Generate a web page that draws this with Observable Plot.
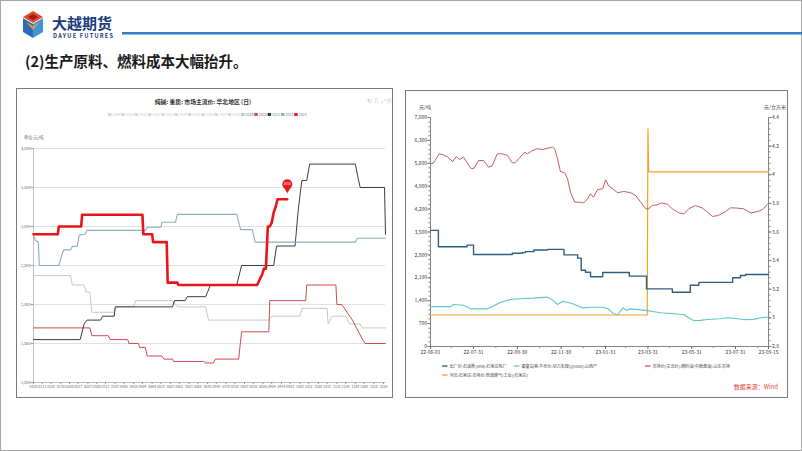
<!DOCTYPE html>
<html><head><meta charset="utf-8">
<script src="https://cdn.jsdelivr.net/npm/d3@7"></script>
<script src="https://cdn.jsdelivr.net/npm/@observablehq/plot@0.6"></script>
<style>
html,body{margin:0;padding:0;background:#fff;}
#slide{position:relative;width:802px;height:451px;overflow:hidden;background:#fff;font-family:"Noto Sans CJK SC","Noto Sans",sans-serif;}
.box{position:absolute;border:1px solid #7a7a7a;box-sizing:border-box;}
#leftChart,#rightChart,#ov{position:absolute;}
#ov{left:0;top:0;}
</style></head>
<body><div id="slide">
<div class="box" style="left:0;top:0;width:802px;height:451px;border-color:#a8a8a8"></div>
<div class="box" style="left:16px;top:88px;width:377px;height:310px"></div>
<div class="box" style="left:405px;top:90px;width:383px;height:308px"></div>
<div id="leftChart" style="left:16px;top:125px"></div>
<div id="rightChart" style="left:406px;top:95px"></div>
<svg id="ov" width="802" height="451"></svg>
</div>
<script>
const FONT = '"Noto Sans CJK SC","Noto Sans",sans-serif';

// ---------- Left chart: 纯碱 seasonal (x = day of year) ----------
const leftTitle = "纯碱: 重质: 市场主流价: 华北地区 (日)";
const leftUnit = "单位:元/吨";
const legendYears = ["2009","2010","2011","2012","2013","2014","2015","2016","2017","2018","2019","2020","2021","2022","2023"];
const seasonLabels = ["0102","0111","0120","0130","0208","0217","0227","0308","0317","0327","0405","0415","0424","0504","0513","0523","0601","0611","0620","0630","0709","0719","0728","0807","0816","0826","0904","0914","0923","1003","1012","1022","1031","1110","1119","1129","1208","1218","1228"];
const leftYTicks = [1000,1500,2000,2500,3000,3500,4000];

const ash2019 = [[2,2370],[40,2370],[42,2250],[54,2250],[56,2160],[60,2160],[62,1900],[85,1900],[87,1970],[105,1970],[107,2050],[145,2050],[150,1970],[179,1970],[182,1800],[244,1800],[247,1850],[276,1850],[278,1950],[304,1950],[305,1750],[309,1850],[323,1850],[327,1750],[338,1750],[340,1700],[364,1700]];
const ash2020 = [[2,1700],[60,1700],[62,1600],[79,1600],[81,1550],[99,1550],[100,1500],[110,1500],[111,1450],[117,1450],[119,1340],[134,1340],[136,1300],[145,1300],[146,1270],[177,1270],[179,1250],[187,1250],[189,1300],[213,1300],[216,1650],[244,1650],[245,2050],[282,2050],[283,2250],[313,2250],[314,2000],[319,2000],[330,1800],[340,1560],[343,1500],[364,1500]];
const ash2021 = [[2,1550],[50,1550],[54,1750],[57,1800],[71,1800],[73,1850],[85,1850],[86,1970],[145,1970],[147,2050],[158,2050],[160,2100],[179,2100],[181,2160],[184,2250],[211,2250],[216,2500],[249,2500],[252,2750],[271,2750],[274,3180],[277,3500],[278,3590],[283,3590],[286,3800],[333,3800],[336,3610],[338,3500],[363,3500],[364,2900]];
const ash2022 = [[2,2890],[4,2820],[7,2800],[8,2500],[28,2500],[31,2630],[33,2700],[40,2700],[42,2745],[47,2745],[49,2890],[55,2900],[57,2950],[117,2950],[119,2990],[133,2990],[134,3055],[148,3055],[150,3155],[211,3155],[215,2960],[227,2960],[230,2800],[333,2800],[335,2850],[364,2850]];
const ash2023 = [[2,2900],[27,2900],[28,3000],[51,3000],[52,3150],[114,3150],[115,2900],[124,2900],[125,2800],[139,2800],[140,2280],[150,2280],[151,2250],[232,2250],[235,2330],[237,2380],[239,2460],[241,2460],[243,3000],[245,3000],[247,3050],[249,3180],[251,3250],[253,3350],[263,3350]];

// ---------- Right chart: fuels ----------
const rightLegend = ["出厂价:石油焦(3#B):石家庄炼厂","秦皇岛港:平仓价:动力末煤(Q5500):山西产","市场价(主流价):燃料油(中硫渣油):山东市场","河北:石家庄:市场价:管道燃气(工业)(石家庄)"];
const rightColors = ["#2e5e84","#5fc6c9","#cc5a5f","#f5a028"];
const leftAxisTicks = [0,700,1400,2100,2800,3500,4200,4900,5600,6300,7000];
const rightAxisTicks = [2.8,3,3.2,3.4,3.6,3.8,4,4.2,4.4];
const dateTicks = ["2022-06-01","2022-07-31","2022-09-30","2022-11-30","2023-01-31","2023-03-31","2023-05-31","2023-07-31","2023-09-15"];
const dateMinorTicks = ["2022-06-30","2022-08-31","2022-10-31","2022-12-31","2023-02-28","2023-04-30","2023-06-30","2023-08-31"];

const petcoke = [["2022-06-01",3550],["2022-06-12",3050],["2022-07-22",3100],["2022-07-31",2810],["2022-09-23",2850],["2022-10-07",2870],["2022-10-11",2900],["2022-10-23",2950],["2022-11-11",2970],["2022-12-04",2800],["2022-12-23",2700],["2022-12-28",2330],["2023-01-03",2270],["2023-01-10",2130],["2023-01-27",2260],["2023-03-05",2150],["2023-03-29",1760],["2023-05-04",1660],["2023-05-29",1870],["2023-06-10",1960],["2023-07-27",2100],["2023-08-07",2170],["2023-08-14",2200],["2023-09-15",2200]];
const coal = [["2022-06-01",1220],["2022-06-29",1220],["2022-07-03",1285],["2022-07-17",1260],["2022-07-27",1150],["2022-08-19",1150],["2022-08-26",1220],["2022-09-07",1355],["2022-09-20",1435],["2022-10-04",1460],["2022-10-23",1480],["2022-11-11",1510],["2022-11-18",1420],["2022-11-25",1285],["2022-12-02",1375],["2022-12-09",1355],["2022-12-17",1300],["2022-12-30",1180],["2023-01-10",1200],["2023-01-27",1200],["2023-02-04",1150],["2023-02-11",1000],["2023-02-17",970],["2023-02-21",1100],["2023-02-25",1180],["2023-03-01",1100],["2023-03-07",1150],["2023-03-21",1120],["2023-04-04",1080],["2023-04-18",1030],["2023-05-06",1000],["2023-05-20",980],["2023-05-29",850],["2023-06-03",795],["2023-06-12",800],["2023-06-22",825],["2023-07-10",850],["2023-07-20",880],["2023-08-03",850],["2023-08-14",820],["2023-08-25",830],["2023-09-04",880],["2023-09-14",900]];
const fuelOil = [["2022-06-01",5585],["2022-06-05",5600],["2022-06-13",5890],["2022-06-19",5860],["2022-06-25",5790],["2022-07-02",5655],["2022-07-07",5810],["2022-07-11",5715],["2022-07-17",5790],["2022-07-27",5450],["2022-07-31",5430],["2022-08-07",5685],["2022-08-14",5685],["2022-08-21",5480],["2022-08-26",5530],["2022-09-02",5890],["2022-09-09",5890],["2022-09-16",5840],["2022-09-23",5615],["2022-09-27",5615],["2022-10-04",5790],["2022-10-10",5940],["2022-10-14",5890],["2022-10-21",5990],["2022-10-28",6045],["2022-11-04",6020],["2022-11-11",6060],["2022-11-18",6095],["2022-11-21",6045],["2022-11-25",5740],["2022-11-29",5350],["2022-12-05",5310],["2022-12-09",5125],["2022-12-13",4720],["2022-12-19",4410],["2022-12-27",4410],["2022-12-31",4390],["2023-01-06",4515],["2023-01-10",4670],["2023-01-14",4565],["2023-01-20",4800],["2023-01-27",4820],["2023-01-31",5095],["2023-02-04",4920],["2023-02-11",4800],["2023-02-17",4700],["2023-02-25",4740],["2023-03-07",4700],["2023-03-14",4615],["2023-03-21",4410],["2023-03-28",4210],["2023-04-01",4210],["2023-04-06",4310],["2023-04-13",4330],["2023-04-19",4390],["2023-04-27",4350],["2023-05-04",4210],["2023-05-13",4085],["2023-05-20",4055],["2023-05-27",4210],["2023-06-05",4310],["2023-06-15",4230],["2023-06-22",4105],["2023-06-29",3975],["2023-07-07",4005],["2023-07-17",4125],["2023-07-24",4240],["2023-08-03",4230],["2023-08-11",4210],["2023-08-21",4085],["2023-08-31",4125],["2023-09-07",4190],["2023-09-14",4360]];
const gas = [["2022-06-01",3.02],["2023-03-30",3.02],["2023-03-31",4.32],["2023-04-01",4.02],["2023-09-15",4.02]];

// ---------- Left plot ----------
const doyOf = s => d3.utcDay.count(new Date(Date.UTC(2023,0,1)), new Date(Date.UTC(2023, +s.slice(0,2)-1, +s.slice(2)))) + 1;
const tickDoy = seasonLabels.map(doyOf);
const labelOf = new Map(tickDoy.map((d,i)=>[d, seasonLabels[i]]));
const xy = {x: d => d[0], y: d => d[1]};
const pinLast = [ash2023[ash2023.length-1]];

const leftPlot = Plot.plot({
  width: 375, height: 271, marginLeft: 17, marginRight: 6, marginTop: 23, marginBottom: 14,
  style: {background:"transparent", fontFamily: FONT, overflow:"visible"},
  x: {domain:[2,364]},
  y: {domain:[1000,4000]},
  marks: [
    Plot.gridY(leftYTicks, {stroke:"#d4d4d4", strokeOpacity:1, strokeWidth:0.7}),
    Plot.ruleX([2], {stroke:"#b0b0b0", strokeWidth:0.8}),
    Plot.ruleY([1000], {stroke:"#b0b0b0", strokeWidth:0.8}),
    Plot.axisY(leftYTicks, {tickFormat: d3.format(","), tickSize:2, tickPadding:1, fontSize:3.8, fill:"#666", stroke:"#999"}),
    Plot.axisX(tickDoy, {tickFormat: d => labelOf.get(d), tickSize:2, tickPadding:1, fontSize:3.5, fill:"#666", stroke:"#999"}),
    Plot.line(ash2019, {...xy, stroke:"#c8c8c8", strokeWidth:1}),
    Plot.line(ash2020, {...xy, stroke:"#cf4b4f", strokeWidth:1}),
    Plot.line(ash2021, {...xy, stroke:"#3c3c3c", strokeWidth:1}),
    Plot.line(ash2022, {...xy, stroke:"#8cb0bf", strokeWidth:1.1}),
    Plot.line(ash2023, {...xy, stroke:"#e8161b", strokeWidth:2.6}),
    Plot.dot(pinLast, {...xy, symbol:"triangle", r:2.6, rotate:180, fill:"#e8161b", dy:-10}),
    Plot.dot(pinLast, {...xy, r:5, fill:"#e8161b", dy:-15}),
    Plot.text(pinLast, {...xy, text: d => String(d[1]), fill:"white", fontSize:3.2, dy:-15})
  ]
});
document.getElementById("leftChart").append(leftPlot);

// ---------- Right plot ----------
const toL = v => (v - 2.8) / 1.6 * 7000;
const dt = d => new Date(d[0]);
const rightPlot = Plot.plot({
  width: 380, height: 265, marginLeft: 24, marginRight: 18, marginTop: 22, marginBottom: 14,
  style: {background:"transparent", fontFamily: FONT, overflow:"visible"},
  x: {type:"utc", domain:[new Date(dateTicks[0]), new Date(dateTicks[dateTicks.length-1])]},
  y: {domain:[0,7000]},
  marks: [
    Plot.ruleX([new Date(dateTicks[0])], {stroke:"#666", strokeWidth:0.8}),
    Plot.ruleX([new Date(dateTicks[dateTicks.length-1])], {stroke:"#666", strokeWidth:0.8}),
    Plot.ruleY([0], {stroke:"#666", strokeWidth:0.8}),
    Plot.axisY(leftAxisTicks, {anchor:"left", tickFormat: d3.format(","), tickSize:2.5, tickPadding:1, fontSize:5, fill:"#333", stroke:"#666"}),
    Plot.axisY(d3.range(0,7001,140), {anchor:"left", tickFormat: () => "", tickSize:1.5, stroke:"#888"}),
    Plot.axisY(rightAxisTicks.map(toL), {anchor:"right", tickFormat: v => String(Math.round((2.8 + v/7000*1.6)*10)/10), tickSize:2.5, tickPadding:1, fontSize:5, fill:"#333", stroke:"#666"}),
    Plot.axisY(d3.range(2.8,4.401,0.04).map(toL), {anchor:"right", tickFormat: () => "", tickSize:1.5, stroke:"#888"}),
    Plot.axisX(dateTicks.map(d => new Date(d)), {tickFormat: d3.utcFormat("%y-%m-%d"), tickSize:3, tickPadding:1, fontSize:5, fill:"#333", stroke:"#666"}),
    Plot.axisX(dateMinorTicks.map(d => new Date(d)), {tickFormat: () => "", tickSize:2, stroke:"#888"}),
    Plot.line(gas, {x: dt, y: d => toL(d[1]), stroke: rightColors[3], strokeWidth:1.2}),
    Plot.line(coal, {x: dt, y: d => d[1], stroke: rightColors[1], strokeWidth:1.1}),
    Plot.line(fuelOil, {x: dt, y: d => d[1], stroke: rightColors[2], strokeWidth:1}),
    Plot.line(petcoke, {x: dt, y: d => d[1], stroke: rightColors[0], strokeWidth:1.4, curve:"step-after"})
  ]
});
document.getElementById("rightChart").append(rightPlot);

// ---------- Overlay: header, titles, legends ----------
const ov = d3.select("#ov").attr("font-family", FONT);
// logo
const g = ov.append("g");
g.append("polygon").attr("points","33,11 43,17 33,23 23,17").attr("fill","#e5472b");
g.append("polygon").attr("points","33,14 38,17 33,20 28,17").attr("fill","#9b1c1c");
g.append("polygon").attr("points","23,18 33,24 33,38 23,32").attr("fill","#2a6db5");
g.append("polygon").attr("points","43,18 33,24 33,38 43,32").attr("fill","#3f95d6");
g.append("polygon").attr("points","26,22 33,26 40,22 33,30").attr("fill","#f2a23a").attr("opacity",0.85);
ov.append("text").attr("x",52).attr("y",28.5).attr("font-size",15).attr("font-weight","bold").attr("fill","#1b3b7b").text("大越期货");
ov.append("text").attr("x",53).attr("y",38).attr("font-size",5.6).attr("font-weight","bold").attr("fill","#1b3b7b").attr("textLength",60).text("DAYUE FUTURES");
ov.append("rect").attr("x",122).attr("y",32).attr("width",680).attr("height",2.5).attr("fill","#2f7ec6");
ov.append("text").attr("x",25).attr("y",67).attr("font-size",14.5).attr("font-weight","bold").attr("fill","#1a1a1a").text("(2)生产原料、燃料成本大幅抬升。");

// left chart title / legend / unit
ov.append("text").attr("x",203).attr("y",104).attr("text-anchor","middle").attr("font-size",5.8).attr("font-weight","bold").attr("fill","#333").text(leftTitle);
ov.append("text").attr("x",392).attr("y",103).attr("text-anchor","end").attr("font-size",6).attr("fill","#bbb").text("↻ ⇩ ⤢ ⎘");
const yearColor = {"2019":"#c8c8c8","2020":"#cf4b4f","2021":"#3c3c3c","2022":"#8cb0bf","2023":"#e8161b"};
legendYears.forEach((y,i) => {
  const x = 108 + i*13.3;
  ov.append("rect").attr("x",x).attr("y",113).attr("width",3.5).attr("height",3).attr("fill", yearColor[y] || "#d6d6d6");
  ov.append("text").attr("x",x+4.5).attr("y",116).attr("font-size",3.6).attr("fill", yearColor[y] ? "#777" : "#c4c4c4").text(y);
});
ov.append("text").attr("x",24).attr("y",139).attr("font-size",4.2).attr("fill","#666").text(leftUnit);

// right chart units / legend / source
ov.append("text").attr("x",425).attr("y",109).attr("text-anchor","middle").attr("font-size",5).attr("fill","#444").text("元/吨");
ov.append("text").attr("x",775).attr("y",109).attr("text-anchor","middle").attr("font-size",5).attr("fill","#444").text("元/立方米");
const legPos = [[442,366],[514,366],[645,366],[442,375]];
rightLegend.forEach((t,i) => {
  const [x,y] = legPos[i];
  ov.append("line").attr("x1",x).attr("x2",x+5.5).attr("y1",y).attr("y2",y).attr("stroke",rightColors[i]).attr("stroke-width",1.3);
  ov.append("text").attr("x",x+7.5).attr("y",y+1.5).attr("font-size",4.1).attr("fill","#444").text(t);
});
ov.append("text").attr("x",778).attr("y",389).attr("text-anchor","end").attr("font-size",6).attr("fill","#e03c31").text("数据来源：Wind");
</script>
</body></html>
